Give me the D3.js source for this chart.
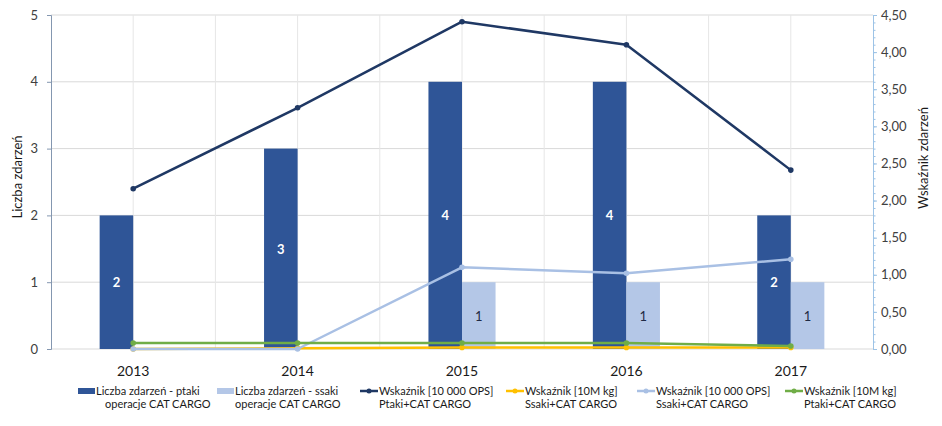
<!DOCTYPE html>
<html>
<head>
<meta charset="utf-8">
<script src="https://cdn.jsdelivr.net/npm/d3@7"></script>
<style>
  html, body { margin: 0; padding: 0; background: #fff; }
  svg { display: block; font-family: Lato, "Open Sans", sans-serif; }
</style>
</head>
<body>
<svg id="chart" width="942" height="426"></svg>
<script>
// ---- data ----
const years = ["2013", "2014", "2015", "2016", "2017"];
const birdCounts = [2, 3, 4, 4, 2];          // Liczba zdarzeń - ptaki
const mammalCounts = [0, 0, 1, 1, 1];        // Liczba zdarzeń - ssaki
const birdOpsRate = [2.16, 3.25, 4.41, 4.10, 2.41];   // Wskaźnik [10 000 OPS] Ptaki
const mammalKgRate = [0.00, 0.01, 0.02, 0.02, 0.02];  // Wskaźnik [10M kg] Ssaki
const mammalOpsRate = [0.00, 0.00, 1.10, 1.02, 1.21]; // Wskaźnik [10 000 OPS] Ssaki
const birdKgRate = [0.08, 0.08, 0.08, 0.08, 0.04];    // Wskaźnik [10M kg] Ptaki
const leftTicks = [0, 1, 2, 3, 4, 5];
const rightTicks = [0, 0.5, 1, 1.5, 2, 2.5, 3, 3.5, 4, 4.5];
const legendLabels = [
  ["Liczba zdarzeń - ptaki", "operacje CAT CARGO"],
  ["Liczba zdarzeń - ssaki", "operacje CAT CARGO"],
  ["Wskaźnik [10 000 OPS]", "Ptaki+CAT CARGO"],
  ["Wskaźnik [10M kg]", "Ssaki+CAT CARGO"],
  ["Wskaźnik [10 000 OPS]", "Ssaki+CAT CARGO"],
  ["Wskaźnik [10M kg]", "Ptaki+CAT CARGO"]
];

// ---- styles ----
const C = {
  darkBar: "#2F5597", lightBar: "#B4C7E7",
  navy: "#1F3864", orange: "#FFC000", lightLine: "#A9C0E4", green: "#70AD47",
  grid: "#D9D9D9", text: "#404040"
};

const svg = d3.select("#chart");
const L = 51, R = 873, T = 15, B = 349;

const x = d3.scaleBand().domain(years).range([L, R]).padding(0);
const x1 = d3.scaleBand().domain(["ptaki", "ssaki"]).range([0, x.bandwidth()])
  .paddingInner(0).paddingOuter(1.45);
const yL = d3.scaleLinear().domain([0, 5]).range([B, T]);
const yR = d3.scaleLinear().domain([0, 4.5]).range([B, T]);
const pl = d3.formatLocale({decimal: ",", thousands: " ", grouping: [3], currency: ["", ""]});
const fmtR = pl.format(".2f");

// gridlines
const g = svg.append("g");
g.selectAll("line.h").data(leftTicks).join("line")
  .attr("x1", L).attr("x2", R).attr("y1", d => yL(d)).attr("y2", d => yL(d))
  .attr("stroke", C.grid).attr("stroke-width", 1);
const vPos = [];
years.forEach(yv => { vPos.push(x(yv)); vPos.push(x(yv) + x.bandwidth() / 2); });
g.selectAll("line.v").data(vPos.filter(p => p > L + 1)).join("line")
  .attr("x1", d => d).attr("x2", d => d).attr("y1", T).attr("y2", B)
  .attr("stroke", "#E6E6E6").attr("stroke-width", 1);

// bars
const barData = [];
years.forEach((yv, i) => {
  barData.push({year: yv, key: "ptaki", v: birdCounts[i]});
  barData.push({year: yv, key: "ssaki", v: mammalCounts[i]});
});
svg.append("g").selectAll("rect").data(barData.filter(d => d.v > 0)).join("rect")
  .attr("x", d => x(d.year) + x1(d.key))
  .attr("width", x1.bandwidth())
  .attr("y", d => yL(d.v))
  .attr("height", d => yL(0) - yL(d.v))
  .attr("fill", d => d.key === "ptaki" ? C.darkBar : C.lightBar);
svg.append("g").selectAll("text").data(barData.filter(d => d.v > 0)).join("text")
  .attr("x", d => x(d.year) + x1(d.key) + x1.bandwidth() / 2)
  .attr("y", d => (yL(d.v) + yL(0)) / 2 + 5)
  .attr("text-anchor", "middle")
  .attr("font-size", 13)
  .attr("font-weight", d => d.key === "ptaki" ? "bold" : "normal")
  .attr("fill", d => d.key === "ptaki" ? "#fff" : "#1F2A44")
  .text(d => d.v);

// lines
const cx = yv => x(yv) + x.bandwidth() / 2;
const lineSeries = [
  {vals: birdOpsRate, color: C.navy},
  {vals: mammalKgRate, color: C.orange},
  {vals: mammalOpsRate, color: C.lightLine},
  {vals: birdKgRate, color: C.green}
];
const lineGen = d3.line().x(d => cx(d.year)).y(d => yR(d.v));
lineSeries.forEach(s => {
  const pts = years.map((yv, i) => ({year: yv, v: s.vals[i]}));
  svg.append("path").datum(pts).attr("d", lineGen)
    .attr("fill", "none").attr("stroke", s.color).attr("stroke-width", 2.5)
    .attr("stroke-linejoin", "round");
  svg.append("g").selectAll("circle").data(pts).join("circle")
    .attr("cx", d => cx(d.year)).attr("cy", d => yR(d.v)).attr("r", 2.8)
    .attr("fill", s.color);
});

// left axis
const axL = svg.append("g").attr("transform", `translate(${L},0)`)
  .call(d3.axisLeft(yL).tickValues(leftTicks).tickSize(4).tickPadding(9).tickFormat(d3.format("d")));
axL.select(".domain").attr("stroke", "#8497B0");
axL.selectAll(".tick line").attr("stroke", "#8497B0");
axL.selectAll("text").attr("font-size", 13).attr("fill", C.text).attr("font-family", "Lato, sans-serif");

// right axis
const minor = d3.range(0, 4.5001, 0.1).map(v => +v.toFixed(2));
const axRm = svg.append("g").attr("transform", `translate(${R},0)`)
  .call(d3.axisRight(yR).tickValues(minor).tickSize(2.5).tickFormat(""));
axRm.select(".domain").attr("stroke", "#9DC3E6");
axRm.selectAll(".tick line").attr("stroke", "#9DC3E6");
const axR = svg.append("g").attr("transform", `translate(${R},0)`)
  .call(d3.axisRight(yR).tickValues(rightTicks).tickSize(4).tickPadding(4).tickFormat(fmtR));
axR.select(".domain").attr("stroke", "#9DC3E6");
axR.selectAll(".tick line").attr("stroke", "#9DC3E6");
axR.selectAll("text").attr("font-size", 13).attr("fill", C.text).attr("font-family", "Lato, sans-serif");

// x axis labels
svg.append("g").selectAll("text").data(years).join("text")
  .attr("x", d => cx(d)).attr("y", 376).attr("text-anchor", "middle")
  .attr("font-size", 14).attr("fill", "#1a1a1a").text(d => d);

// axis titles
svg.append("text").attr("transform", `translate(22,177) rotate(-90)`)
  .attr("text-anchor", "middle").attr("font-size", 13).attr("fill", "#1a1a1a").text("Liczba zdarzeń");
svg.append("text").attr("transform", `translate(928,158) rotate(-90)`)
  .attr("text-anchor", "middle").attr("font-size", 13).attr("fill", "#1a1a1a").text("Wskaźnik zdarzeń");

// legend
const legX = [78, 217, 360, 506, 637, 785];
const legColors = [C.darkBar, C.lightBar, C.navy, C.orange, C.lightLine, C.green];
const leg = svg.append("g");
legendLabels.forEach((lab, i) => {
  const gx = leg.append("g").attr("transform", `translate(${legX[i]},0)`);
  if (i < 2) {
    gx.append("rect").attr("x", 0).attr("y", 388).attr("width", 17).attr("height", 6).attr("fill", legColors[i]);
  } else {
    gx.append("line").attr("x1", 0).attr("x2", 18).attr("y1", 391).attr("y2", 391)
      .attr("stroke", legColors[i]).attr("stroke-width", 2.5);
    gx.append("circle").attr("cx", 9).attr("cy", 391).attr("r", 2.5).attr("fill", legColors[i]);
  }
  const tx = i < 2 ? 18 : 19;
  gx.append("text").attr("x", tx).attr("y", 395).attr("font-size", 11).attr("fill", "#1a1a1a").text(lab[0]);
  gx.append("text").attr("x", tx + (i === 0 ? 9 : 0)).attr("y", 408).attr("font-size", 11).attr("fill", "#1a1a1a").text(lab[1]);
});
</script>
</body>
</html>
